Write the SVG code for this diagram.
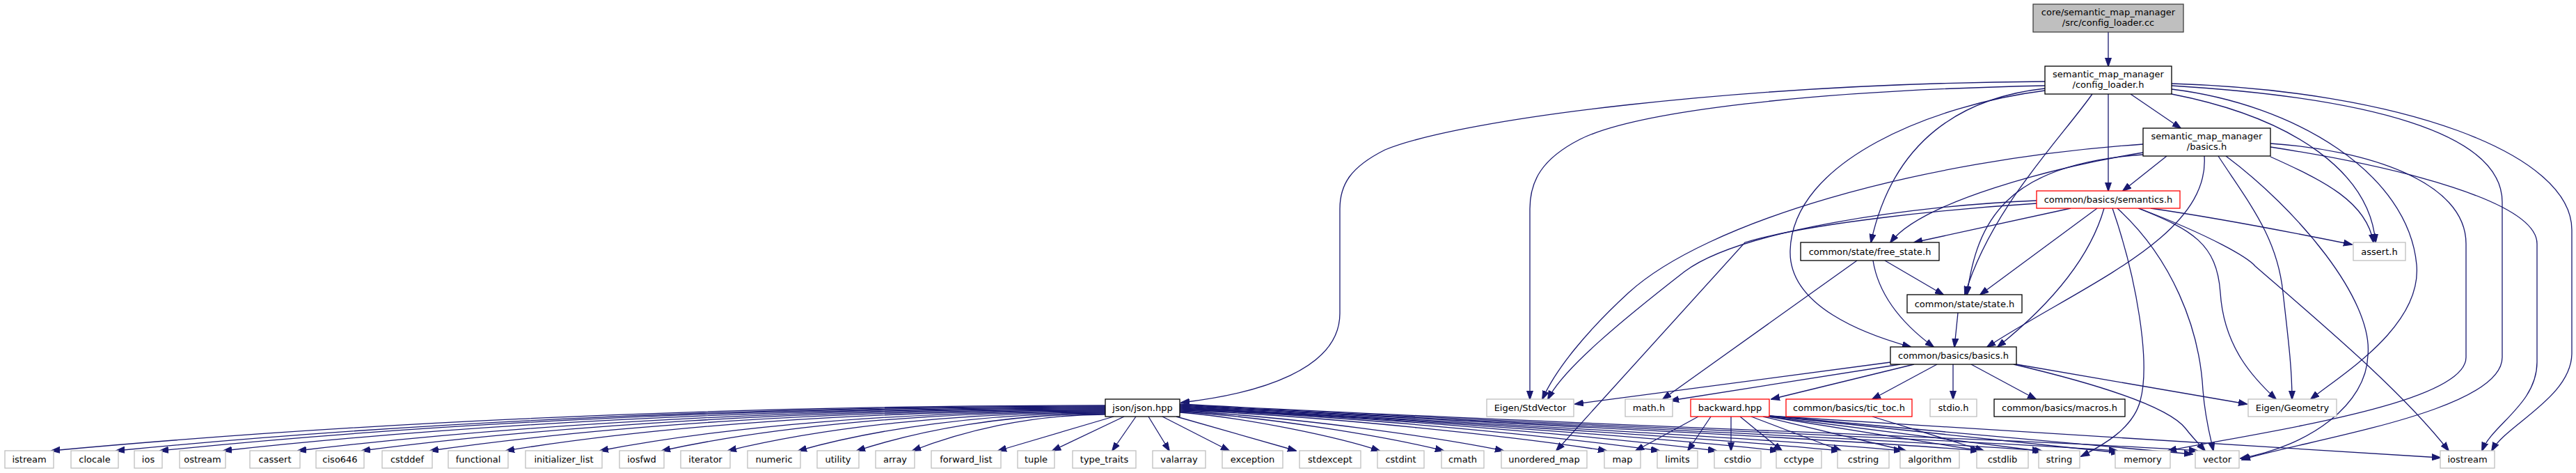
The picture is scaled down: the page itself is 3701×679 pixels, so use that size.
<svg xmlns="http://www.w3.org/2000/svg" width="3701" height="679" viewBox="0 0 3701 679">
<style>
.n rect{fill:#fff;stroke:#000;stroke-width:1.3}
.g rect{stroke:#bfbfbf}
.r rect{stroke:#ff0000}
.root rect{fill:#bfbfbf;stroke:#404040}
text{font-family:"DejaVu Sans","Liberation Sans",sans-serif;font-size:13px;text-anchor:middle;fill:#000}
#edges path{fill:none;stroke:#191970;stroke-width:1.3;marker-end:url(#ah)}
</style>
<defs>
<marker id="ah" markerWidth="13" markerHeight="10" refX="12" refY="5" orient="auto" markerUnits="userSpaceOnUse"><path d="M0,0.5 L13,5 L0,9.5 z" fill="#191970" stroke="#191970" stroke-width="1"/></marker>
</defs>
<rect width="3701" height="679" fill="#fff"/>
<g id="edges">
<path d="M3029,46 V95"/>
<path d="M3061,135 L3133,184"/>
<path d="M3029,135 V274"/>
<path d="M3006,135 C2960,200 2860,300 2823,423"/>
<path d="M2938,127 C2820,140 2720,200 2688,348"/>
<path d="M2938,130 C2780,150 2575,230 2572,360 C2570,440 2680,480 2745,498"/>
<path d="M2938,117 C2500,120 2100,170 1990,215 C1940,240 1925,265 1925,300 V450 C1925,530 1810,565 1697,578"/>
<path d="M2938,123 C2600,130 2350,160 2270,200 C2215,228 2198,260 2198,300 V573"/>
<path d="M3120,135 C3300,170 3405,250 3413,348"/>
<path d="M3120,128 C3300,150 3460,250 3472,380 C3480,470 3360,540 3320,573"/>
<path d="M3120,123 C3400,140 3595,190 3595,290 V513 C3595,590 3320,630 3221,660"/>
<path d="M3120,120 C3450,130 3695,220 3695,330 V507 C3695,570 3600,610 3580,647"/>
<path d="M3113,224 L3050,274"/>
<path d="M3079,219 C2950,240 2760,290 2716,348"/>
<path d="M3079,222 C2880,235 2840,320 2826,423"/>
<path d="M3167,224 C3175,340 2990,410 2855,498"/>
<path d="M3079,207 C2750,230 2450,320 2340,420 C2280,475 2235,530 2216,573"/>
<path d="M3187,224 C3230,290 3272,340 3280,420 C3288,490 3293,530 3293,573"/>
<path d="M3262,225 C3340,260 3400,290 3410,348"/>
<path d="M3198,224 C3300,300 3410,430 3402,510 C3400,580 3320,640 3219,658"/>
<path d="M3262,206 C3400,215 3543,260 3543,350 V513 C3543,580 3250,620 3115,647"/>
<path d="M3262,211 C3450,240 3645,290 3645,350 V520 C3645,580 3580,610 3566,647"/>
<path d="M2975,299 L2750,348"/>
<path d="M3013,299 L2845,423"/>
<path d="M3023,299 C3000,380 2930,450 2870,498"/>
<path d="M2926,288 C2750,295 2500,330 2420,390 C2330,460 2245,530 2224,573"/>
<path d="M2926,292 C2800,300 2600,320 2507,348 L2236,647"/>
<path d="M3035,299 C3070,400 3090,520 3075,575 C3065,615 3020,640 2990,655"/>
<path d="M3042,299 C3120,370 3160,470 3165,560 C3168,600 3175,625 3180,647"/>
<path d="M3072,299 C3150,330 3185,350 3190,420 C3195,500 3240,545 3270,573"/>
<path d="M3073,299 C3180,340 3230,370 3240,382 C3330,460 3450,560 3518,647"/>
<path d="M3090,299 C3200,315 3300,335 3379,351"/>
<path d="M2708,374 L2792,423"/>
<path d="M2691,374 C2700,430 2740,470 2778,498"/>
<path d="M2668,374 L2389,573"/>
<path d="M2813,449 L2808,498"/>
<path d="M2716,520 L2263,580"/>
<path d="M2730,523 L2400,575"/>
<path d="M2750,523 L2545,573"/>
<path d="M2783,523 L2690,573"/>
<path d="M2806,523 V573"/>
<path d="M2832,523 L2925,573"/>
<path d="M2897,523 L3228,580"/>
<path d="M2893,523 C3050,560 3120,590 3140,615 C3150,628 3160,638 3168,647"/>
<path d="M2440,598 L2350,647"/>
<path d="M2458,598 L2425,647"/>
<path d="M2487,598 V647"/>
<path d="M2500,598 L2560,647"/>
<path d="M2516,598 L2645,647"/>
<path d="M2533,598 L2738,647"/>
<path d="M2540,598 L2845,647"/>
<path d="M2542,598 L2935,648"/>
<path d="M2542,597 L3045,650"/>
<path d="M2542,597 L3150,652"/>
<path d="M2542,597 L3506,657"/>
<path d="M2690,598 L2850,647"/>
<path d="M1588,582 C982,582 453,612 74,647"/>
<path d="M1588,583 C1020,583 522,612 167,647"/>
<path d="M1588,584 C1045,584 570,612 230,647"/>
<path d="M1588,585 C1081,585 638,612 321,647"/>
<path d="M1588,586 C1124,586 718,612 428,647"/>
<path d="M1588,587 C1161,587 787,612 520,647"/>
<path d="M1588,588 C1200,588 861,612 618,647"/>
<path d="M1588,589 C1244,589 942,612 727,647"/>
<path d="M1588,590 C1298,590 1044,612 862,647"/>
<path d="M1588,591 C1333,591 1110,612 951,647"/>
<path d="M1588,592 C1371,592 1182,614 1046,647"/>
<path d="M1588,593 C1412,593 1257,616 1147,647"/>
<path d="M1588,594 C1445,594 1320,618 1231,647"/>
<path d="M1588,595 C1477,595 1380,620 1311,647"/>
<path d="M1600,598 L1434,647"/>
<path d="M1615,598 L1512,647"/>
<path d="M1632,598 L1598,647"/>
<path d="M1650,598 L1680,647"/>
<path d="M1670,598 L1766,647"/>
<path d="M1690,598 L1862,647"/>
<path d="M1695,592 C1795,600 1925,628 1982,647"/>
<path d="M1695,591 C1828,599 1998,628 2074,647"/>
<path d="M1695,590 C1858,598 2067,628 2160,647"/>
<path d="M1695,589 C1910,597 2185,628 2308,647"/>
<path d="M1695,588 C1936,596 2246,628 2384,647"/>
<path d="M1695,587 C1965,597 2312,628 2466,647"/>
<path d="M1695,586 C1996,600 2383,628 2555,647"/>
<path d="M1695,585 C2027,602 2453,628 2643,647"/>
<path d="M1695,584 C2058,604 2525,628 2733,647"/>
<path d="M1695,583 C2097,605 2613,628 2843,647"/>
<path d="M1695,582 C2128,606 2685,628 2932,647"/>
<path d="M1695,581 C2166,607 2773,628 3042,647"/>
<path d="M1695,580 C2207,608 2865,628 3157,647"/>
</g>
<g id="n_root" class="n root"><rect x="2921" y="6" width="216" height="40"/><text x="3029" y="22">core/semantic_map_manager</text><text x="3029" y="37">/src/config_loader.cc</text></g>
<g id="n_cfg" class="n"><rect x="2938" y="95" width="182" height="40"/><text x="3029" y="111">semantic_map_manager</text><text x="3029" y="126">/config_loader.h</text></g>
<g id="n_smmb" class="n"><rect x="3079" y="184" width="183" height="40"/><text x="3170.5" y="200">semantic_map_manager</text><text x="3170.5" y="215">/basics.h</text></g>
<g id="n_sem" class="n r"><rect x="2926" y="274" width="206" height="25"/><text x="3029" y="291">common/basics/semantics.h</text></g>
<g id="n_assert" class="n g"><rect x="3381" y="348" width="75" height="26"/><text x="3418.5" y="365.5">assert.h</text></g>
<g id="n_fs" class="n"><rect x="2587" y="348" width="199" height="26"/><text x="2686.5" y="365.5">common/state/free_state.h</text></g>
<g id="n_st" class="n"><rect x="2740" y="423" width="165" height="26"/><text x="2822.5" y="440.5">common/state/state.h</text></g>
<g id="n_bb" class="n"><rect x="2716" y="498" width="181" height="25"/><text x="2806.5" y="515">common/basics/basics.h</text></g>
<g id="n_json" class="n"><rect x="1588" y="573" width="107" height="25"/><text x="1641.5" y="590">json/json.hpp</text></g>
<g id="n_esv" class="n g"><rect x="2136" y="573" width="125" height="25"/><text x="2198.5" y="590">Eigen/StdVector</text></g>
<g id="n_math" class="n g"><rect x="2335" y="573" width="68" height="25"/><text x="2369" y="590">math.h</text></g>
<g id="n_bw" class="n r"><rect x="2429" y="573" width="113" height="25"/><text x="2485.5" y="590">backward.hpp</text></g>
<g id="n_tt" class="n r"><rect x="2566" y="573" width="181" height="25"/><text x="2656.5" y="590">common/basics/tic_toc.h</text></g>
<g id="n_stdio" class="n g"><rect x="2773" y="573" width="67" height="25"/><text x="2806.5" y="590">stdio.h</text></g>
<g id="n_macros" class="n"><rect x="2865" y="573" width="188" height="25"/><text x="2959" y="590">common/basics/macros.h</text></g>
<g id="n_egeo" class="n g"><rect x="3230" y="573" width="127" height="25"/><text x="3293.5" y="590">Eigen/Geometry</text></g>
<g id="n_istream" class="n g"><rect x="7" y="647" width="70" height="25"/><text x="42" y="664">istream</text></g>
<g id="n_clocale" class="n g"><rect x="102" y="647" width="68" height="25"/><text x="136" y="664">clocale</text></g>
<g id="n_ios" class="n g"><rect x="193" y="647" width="40" height="25"/><text x="213" y="664">ios</text></g>
<g id="n_ostream" class="n g"><rect x="258" y="647" width="66" height="25"/><text x="291" y="664">ostream</text></g>
<g id="n_cassert" class="n g"><rect x="359" y="647" width="72" height="25"/><text x="395" y="664">cassert</text></g>
<g id="n_ciso646" class="n g"><rect x="454" y="647" width="69" height="25"/><text x="488.5" y="664">ciso646</text></g>
<g id="n_cstddef" class="n g"><rect x="549" y="647" width="72" height="25"/><text x="585" y="664">cstddef</text></g>
<g id="n_functional" class="n g"><rect x="644" y="647" width="86" height="25"/><text x="687" y="664">functional</text></g>
<g id="n_initializer_list" class="n g"><rect x="755" y="647" width="110" height="25"/><text x="810" y="664">initializer_list</text></g>
<g id="n_iosfwd" class="n g"><rect x="890" y="647" width="64" height="25"/><text x="922" y="664">iosfwd</text></g>
<g id="n_iterator" class="n g"><rect x="978" y="647" width="71" height="25"/><text x="1013.5" y="664">iterator</text></g>
<g id="n_numeric" class="n g"><rect x="1074" y="647" width="76" height="25"/><text x="1112" y="664">numeric</text></g>
<g id="n_utility" class="n g"><rect x="1174" y="647" width="60" height="25"/><text x="1204" y="664">utility</text></g>
<g id="n_array" class="n g"><rect x="1258" y="647" width="56" height="25"/><text x="1286" y="664">array</text></g>
<g id="n_forward_list" class="n g"><rect x="1338" y="647" width="100" height="25"/><text x="1388" y="664">forward_list</text></g>
<g id="n_tuple" class="n g"><rect x="1462" y="647" width="53" height="25"/><text x="1488.5" y="664">tuple</text></g>
<g id="n_type_traits" class="n g"><rect x="1541" y="647" width="91" height="25"/><text x="1586.5" y="664">type_traits</text></g>
<g id="n_valarray" class="n g"><rect x="1656" y="647" width="76" height="25"/><text x="1694" y="664">valarray</text></g>
<g id="n_exception" class="n g"><rect x="1756" y="647" width="87" height="25"/><text x="1799.5" y="664">exception</text></g>
<g id="n_stdexcept" class="n g"><rect x="1867" y="647" width="88" height="25"/><text x="1911" y="664">stdexcept</text></g>
<g id="n_cstdint" class="n g"><rect x="1979" y="647" width="67" height="25"/><text x="2012.5" y="664">cstdint</text></g>
<g id="n_cmath" class="n g"><rect x="2071" y="647" width="61" height="25"/><text x="2101.5" y="664">cmath</text></g>
<g id="n_unordered_map" class="n g"><rect x="2157" y="647" width="123" height="25"/><text x="2218.5" y="664">unordered_map</text></g>
<g id="n_map" class="n g"><rect x="2305" y="647" width="52" height="25"/><text x="2331" y="664">map</text></g>
<g id="n_limits" class="n g"><rect x="2381" y="647" width="58" height="25"/><text x="2410" y="664">limits</text></g>
<g id="n_cstdio" class="n g"><rect x="2463" y="647" width="67" height="25"/><text x="2496.5" y="664">cstdio</text></g>
<g id="n_cctype" class="n g"><rect x="2552" y="647" width="65" height="25"/><text x="2584.5" y="664">cctype</text></g>
<g id="n_cstring" class="n g"><rect x="2640" y="647" width="74" height="25"/><text x="2677" y="664">cstring</text></g>
<g id="n_algorithm" class="n g"><rect x="2730" y="647" width="85" height="25"/><text x="2772.5" y="664">algorithm</text></g>
<g id="n_cstdlib" class="n g"><rect x="2840" y="647" width="74" height="25"/><text x="2877" y="664">cstdlib</text></g>
<g id="n_string" class="n g"><rect x="2929" y="647" width="59" height="25"/><text x="2958.5" y="664">string</text></g>
<g id="n_memory" class="n g"><rect x="3039" y="647" width="79" height="25"/><text x="3078.5" y="664">memory</text></g>
<g id="n_vector" class="n g"><rect x="3154" y="647" width="63" height="25"/><text x="3185.5" y="664">vector</text></g>
<g id="n_iostream" class="n g"><rect x="3506" y="647" width="78" height="25"/><text x="3545" y="664">iostream</text></g>
</svg>
